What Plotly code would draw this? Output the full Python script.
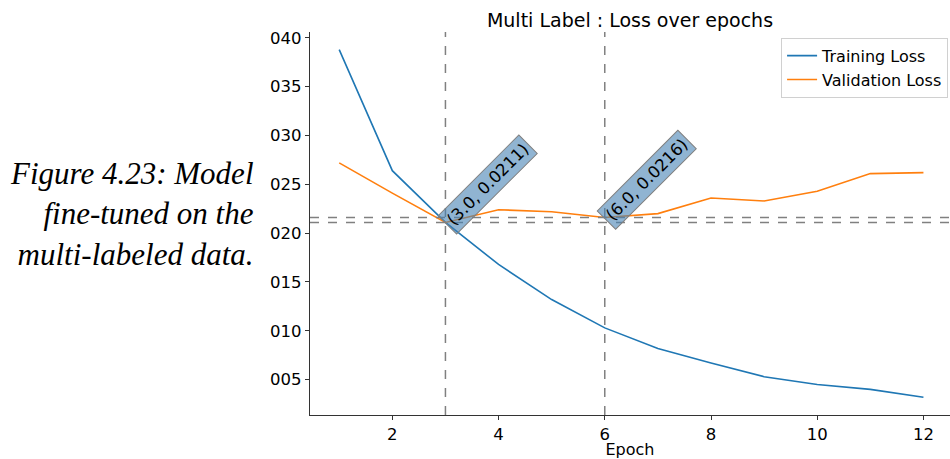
import plotly.graph_objects as go

# Loss history per epoch
epochs = [1, 2, 3, 4, 5, 6, 7, 8, 9, 10, 11, 12]
training_loss = [0.0388, 0.0264, 0.0211, 0.0168, 0.0132, 0.0103, 0.0082, 0.0067, 0.0053, 0.0045, 0.0040, 0.0032]
validation_loss = [0.0272, 0.0241, 0.0211, 0.0224, 0.0222, 0.0216, 0.0220, 0.0236, 0.0233, 0.0243, 0.0261, 0.0262]

# Marked points (epoch, loss)
marks = [(3.0, 0.0211), (6.0, 0.0216)]

y_ticks = [0.005, 0.010, 0.015, 0.020, 0.025, 0.030, 0.035, 0.040]
y_tick_text = ["005", "010", "015", "020", "025", "030", "035", "040"]
x_ticks = [2, 4, 6, 8, 10, 12]

caption = "Figure 4.23: Model<br>fine-tuned on the<br>multi-labeled data."

W, H = 950, 459
L, R, T, B = 310, 0, 32, 44

fig = go.Figure()
fig.add_trace(go.Scatter(x=epochs, y=training_loss, mode="lines", name="Training Loss",
                         line=dict(color="#1f77b4", width=1.6)))
fig.add_trace(go.Scatter(x=epochs, y=validation_loss, mode="lines", name="Validation Loss",
                         line=dict(color="#ff7f0e", width=1.6)))

for mx, my in marks:
    fig.add_vline(x=mx, line=dict(color="gray", width=1.5, dash="dash"))
    fig.add_hline(y=my, line=dict(color="gray", width=1.5, dash="dash"))
    fig.add_annotation(x=mx, y=my, xref="x", yref="y", text=f"({mx:.1f}, {my})",
                       showarrow=False, textangle=-45, xanchor="left", yanchor="bottom",
                       xshift=-8, yshift=-12,
                       font=dict(family="DejaVu Sans", size=16.5, color="black"),
                       bgcolor="rgba(70,130,180,0.6)", bordercolor="gray", borderwidth=1,
                       borderpad=3)

plot_w = W - L - R
fig.add_annotation(x=(256 - L) / plot_w, y=0.5, xref="paper", yref="paper",
                   text=f"<i>{caption}</i>", showarrow=False, xanchor="right", yanchor="middle",
                   align="right", yshift=10,
                   font=dict(family="Liberation Serif", size=31, color="black"))

fig.update_layout(
    width=W, height=H,
    margin=dict(l=L, r=R, t=T, b=B),
    paper_bgcolor="white", plot_bgcolor="white",
    font=dict(family="DejaVu Sans", size=16.5, color="black"),
    title=dict(text="Multi Label : Loss over epochs", x=(L + plot_w / 2) / W, xanchor="center",
               y=1 - 20 / H, yanchor="middle", font=dict(size=19)),
    showlegend=True,
    legend=dict(x=0.997, y=0.985, xanchor="right", yanchor="top",
                bordercolor="#d0d0d0", borderwidth=1, bgcolor="white",
                font=dict(size=16)),
    xaxis=dict(range=[0.45, 12.5], tickvals=x_ticks, showgrid=False, zeroline=False,
               showline=True, linecolor="#333", linewidth=1.2, ticks="outside", ticklen=4,
               tickcolor="#333", title=dict(text="Epoch", standoff=2, font=dict(size=16))),
    yaxis=dict(range=[0.00138, 0.0406], tickvals=y_ticks, ticktext=y_tick_text, showgrid=False,
               zeroline=False, showline=True, linecolor="#333", linewidth=1.2, ticks="outside",
               ticklen=4, tickcolor="#333"),
)

fig.write_html("out.html")
